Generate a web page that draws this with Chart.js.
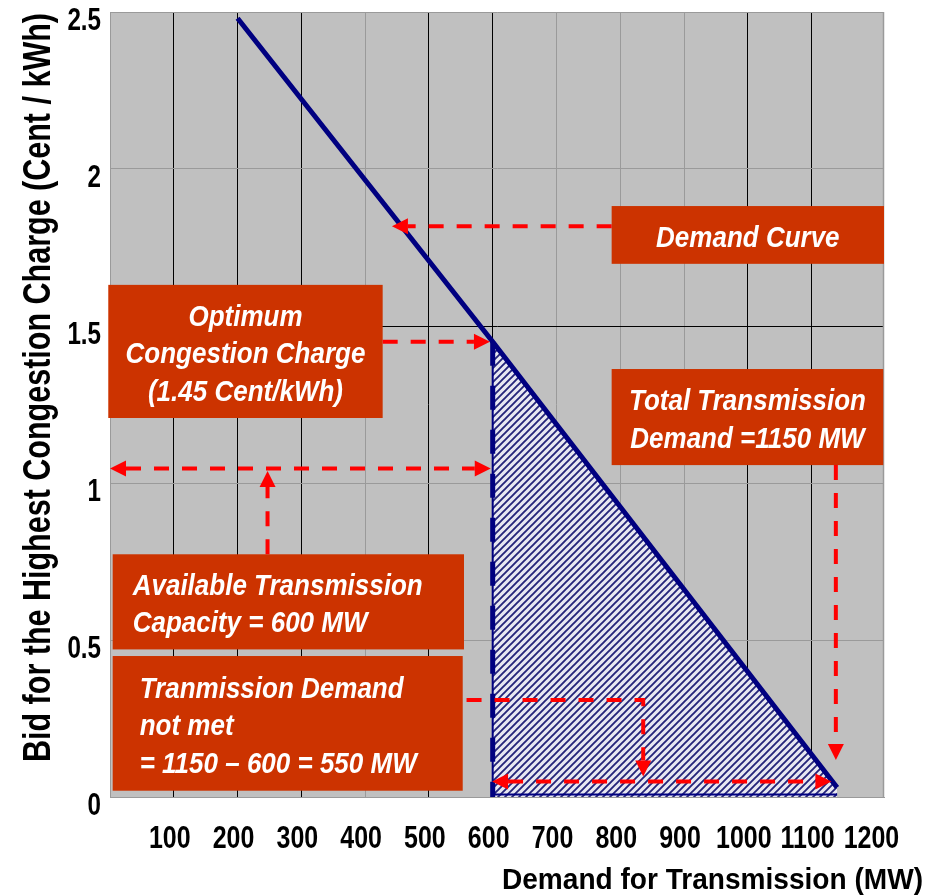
<!DOCTYPE html>
<html>
<head>
<meta charset="utf-8">
<title>Demand for Transmission</title>
<script src="https://cdn.jsdelivr.net/npm/chart.js@4.4.1/dist/chart.umd.min.js"></script>
<style>
  html, body { margin: 0; padding: 0; background: #ffffff; }
  canvas { display: block; }
</style>
</head>
<body>
<canvas id="c" width="929" height="895"></canvas>
<script>
// ---- data ----------------------------------------------------------------
// Demand curve: bid for congestion charge (Cent/kWh) against demanded MW
const demandMW  = [200, 600, 1140];
const demandBid = [2.48, 1.45, 0.03];

const capacityMW    = 600;   // available transmission capacity
const optimumCharge = 1.45;  // bid where the curve meets the capacity
const totalDemandMW = 1150;  // total demand (curve meets zero charge)

const xTickValues = [0, 100, 200, 300, 400, 500, 600, 700, 800, 900, 1000, 1100, 1200];
const xTickLabels = ['', '100', '200', '300', '400', '500', '600', '700', '800', '900', '1000', '1100', '1200'];
const yTickValues = [0, 0.5, 1, 1.5, 2, 2.5];
const yTickLabels = ['0', '0.5', '1', '1.5', '2', '2.5'];

const xTitle = 'Demand for Transmission (MW)';
const yTitle = 'Bid for the Highest Congestion Charge (Cent / kWh)';

// ---- styling ---------------------------------------------------------------
const NAVY = '#000080';
const PLOT_BG = '#c0c0c0';
const GRID_GRAY = '#9a9a9a';
const BOX_RED = '#cc3300';
const ARROW_RED = '#ff0000';
const FAMILY = '"Liberation Sans", Arial, sans-serif';
const darkGridX = [100, 200, 300, 500, 600, 1000, 1100];
const darkGridY = [1.5];

// diagonal hatch used for the unmet-demand triangle
function makeHatch() {
  const s = 7;
  const tile = document.createElement('canvas');
  tile.width = s; tile.height = s;
  const g = tile.getContext('2d');
  g.fillStyle = '#e8e8f2';
  g.fillRect(0, 0, s, s);
  g.strokeStyle = '#25257a';
  g.lineWidth = 1.9;
  g.beginPath();
  g.moveTo(0, s); g.lineTo(s, 0);
  g.moveTo(-s / 2, s / 2); g.lineTo(s / 2, -s / 2);
  g.moveTo(s / 2, s * 1.5); g.lineTo(s * 1.5, s / 2);
  g.stroke();
  return document.getElementById('c').getContext('2d').createPattern(tile, 'repeat');
}

// ---- callouts (in data units) ---------------------------------------------
const calloutBoxes = [
  { x: [786.5, 1213.5], y: [1.698, 1.882], align: 'center',
    lines: ['Demand Curve'] },
  { x: [-2.7, 427.5], y: [1.207, 1.631], align: 'center',
    lines: ['Optimum', 'Congestion Charge', '(' + optimumCharge + ' Cent/kWh)'] },
  { x: [786.5, 1212.3], y: [1.057, 1.363], align: 'center',
    lines: ['Total Transmission', 'Demand =' + totalDemandMW + ' MW'] },
  { x: [4.2, 555], y: [0.470, 0.773], align: 'left', inset: 20,
    lines: ['Available Transmission', 'Capacity = ' + capacityMW + ' MW'] },
  { x: [4.2, 553], y: [0.020, 0.449], align: 'left', inset: 27,
    lines: ['Tranmission Demand', 'not met',
            '= ' + totalDemandMW + ' \u2013 ' + capacityMW + ' = ' + (totalDemandMW - capacityMW) + ' MW'] }
];

const calloutArrows = [
  { pts: [[786.5, 1.818], [442, 1.818]], heads: ['end'] },
  { pts: [[427.5, optimumCharge], [595.7, optimumCharge]], heads: ['end'] },
  { pts: [[0, 1.046], [597, 1.046]], heads: ['start', 'end'] },
  { pts: [[247, 0.773], [247, 1.038]], heads: ['end'] },
  { pts: [[1138, 1.057], [1138, 0.118]], heads: ['end'] },
  { pts: [[599, 0.049], [1131, 0.049]], heads: ['start', 'end'] },
  { pts: [[559, 0.309], [836, 0.309], [836, 0.065]], heads: ['end'] }
];

// text drawn with a horizontal squeeze (condensed bold face)
function squeezedText(ctx, text, x, y, size, sx, align, opts) {
  ctx.save();
  ctx.font = (opts && opts.italic ? 'italic ' : '') + 'bold ' + size + 'px ' + FAMILY;
  ctx.textAlign = align;
  ctx.textBaseline = 'alphabetic';
  ctx.translate(x, y);
  if (opts && opts.rotate) ctx.rotate(opts.rotate);
  ctx.scale(sx, (opts && opts.sy) || 1);
  ctx.fillText(text, 0, 0);
  ctx.restore();
}

// ---- plugins ---------------------------------------------------------------
const plotFrame = {
  id: 'plotFrame',
  beforeDraw(chart) {
    const { ctx, chartArea: a } = chart;
    ctx.save();
    ctx.fillStyle = '#ffffff';
    ctx.fillRect(0, 0, chart.width, chart.height);
    ctx.fillStyle = PLOT_BG;
    ctx.fillRect(a.left, a.top, a.right - a.left, a.bottom - a.top);
    ctx.restore();
  },
  beforeDatasetsDraw(chart) {
    const { ctx, chartArea: a } = chart;
    ctx.save();
    ctx.strokeStyle = GRID_GRAY;
    ctx.lineWidth = 1.5;
    ctx.beginPath();
    ctx.moveTo(a.right - 0.5, a.top);
    ctx.lineTo(a.right - 0.5, a.bottom);
    ctx.stroke();
    ctx.restore();
  }
};

function drawArrow(ctx, p, heads) {
  const HL = 16, HW = 8;
  const step = (a, b) => {
    const dx = b.x - a.x, dy = b.y - a.y, d = Math.hypot(dx, dy);
    return { x: a.x + dx / d * HL, y: a.y + dy / d * HL };
  };
  const path = p.map(q => ({ x: q.x, y: q.y }));
  if (heads.includes('start')) path[0] = step(p[0], p[1]);
  if (heads.includes('end')) path[path.length - 1] = step(p[p.length - 1], p[p.length - 2]);
  ctx.strokeStyle = ARROW_RED;
  ctx.fillStyle = ARROW_RED;
  ctx.lineWidth = 4;
  ctx.lineCap = 'butt';
  ctx.setLineDash([15, 13]);
  ctx.beginPath();
  path.forEach((q, i) => (i ? ctx.lineTo(q.x, q.y) : ctx.moveTo(q.x, q.y)));
  ctx.stroke();
  ctx.setLineDash([]);
  const head = (tip, from) => {
    const dx = tip.x - from.x, dy = tip.y - from.y, d = Math.hypot(dx, dy);
    const ux = dx / d, uy = dy / d;
    const bx = tip.x - ux * HL, by = tip.y - uy * HL;
    ctx.beginPath();
    ctx.moveTo(tip.x, tip.y);
    ctx.lineTo(bx - uy * HW, by + ux * HW);
    ctx.lineTo(bx + uy * HW, by - ux * HW);
    ctx.closePath();
    ctx.fill();
  };
  if (heads.includes('start')) head(p[0], p[1]);
  if (heads.includes('end')) head(p[p.length - 1], p[p.length - 2]);
}

const callouts = {
  id: 'callouts',
  afterDatasetsDraw(chart) {
    const { ctx } = chart;
    const X = v => chart.scales.x.getPixelForValue(v);
    const Y = v => chart.scales.y.getPixelForValue(v);
    const SIZE = 26, SY = 1.15, LEAD = 37.5;
    const capH = 0.716 * SIZE * SY;
    ctx.save();
    for (const b of calloutBoxes) {
      const x0 = X(b.x[0]), x1 = X(b.x[1]);
      const y0 = Y(b.y[1]), y1 = Y(b.y[0]);
      ctx.fillStyle = BOX_RED;
      ctx.fillRect(x0, y0, x1 - x0, y1 - y0);
      ctx.fillStyle = '#ffffff';
      const n = b.lines.length, cy = (y0 + y1) / 2 + 1;
      b.lines.forEach((t, i) => {
        const mid = cy + (i - (n - 1) / 2) * LEAD;
        const tx = b.align === 'left' ? x0 + b.inset : (x0 + x1) / 2;
        squeezedText(ctx, t, tx, mid + capH / 2, SIZE, 1, b.align, { italic: true, sy: SY });
      });
    }
    for (const a of calloutArrows) {
      drawArrow(ctx, a.pts.map(([mx, v]) => ({ x: X(mx), y: Y(v) })), a.heads);
    }
    ctx.restore();
  },
  afterDraw(chart) {
    const { ctx } = chart;
    const xs = chart.scales.x, ys = chart.scales.y;
    ctx.save();
    ctx.fillStyle = '#000000';

    // tick labels at the scale's tick positions
    const TX = 32, TY = 31, SQ = 0.78;
    xTickValues.forEach((v, i) => {
      if (!xTickLabels[i]) return;
      squeezedText(ctx, xTickLabels[i], xs.getPixelForValue(v) - 4, 848, TX, SQ, 'center');
    });
    yTickValues.forEach((v, i) => {
      squeezedText(ctx, yTickLabels[i], 101, ys.getPixelForValue(v) + 7 + 0.716 * TY / 2, TY, SQ, 'right');
    });

    // x-axis title, right-aligned below the tick labels
    ctx.font = 'bold 29px ' + FAMILY;
    let sx = 421 / ctx.measureText(xTitle).width;
    squeezedText(ctx, xTitle, 923, 889, 29, sx, 'right');

    // y-axis title, rotated
    ctx.font = 'bold 38px ' + FAMILY;
    sx = 749 / ctx.measureText(yTitle).width;
    squeezedText(ctx, yTitle, 50, 387.5, 38, sx, 'center', { rotate: -Math.PI / 2 });
    ctx.restore();
  }
};

// ---- chart -----------------------------------------------------------------
const hatch = makeHatch();
const pts = (xs, ys) => xs.map((x, i) => ({ x: x, y: ys[i] }));

new Chart(document.getElementById('c'), {
  type: 'scatter',
  data: {
    datasets: [
      { label: 'Demand curve', data: pts(demandMW, demandBid), showLine: true,
        borderColor: NAVY, borderWidth: 5, pointRadius: 0, fill: false },
      { label: 'Capacity limit', data: pts([capacityMW, capacityMW], [optimumCharge, -0.004]),
        showLine: true, borderColor: NAVY, borderWidth: 5, borderDash: [24, 20],
        pointRadius: 0, fill: false },
      { label: 'Unmet outline', data: pts([capacityMW, capacityMW, demandMW[2]], [optimumCharge, 0.008, 0.008]),
        showLine: true, borderColor: NAVY, borderWidth: 2, pointRadius: 0, fill: false },
      { label: 'Unmet demand', data: pts(demandMW.slice(1), demandBid.slice(1)), showLine: true,
        borderColor: 'rgba(0,0,0,0)', borderWidth: 0, pointRadius: 0,
        fill: 'origin', backgroundColor: hatch }
    ]
  },
  options: {
    responsive: false,
    animation: false,
    devicePixelRatio: 1,
    layout: { padding: { top: 12, right: 45, left: 0, bottom: 0 } },
    plugins: { legend: { display: false }, tooltip: { enabled: false } },
    scales: {
      x: {
        type: 'linear', min: 0, max: 1213.5,
        afterBuildTicks: s => { s.ticks = xTickValues.map(v => ({ value: v })); },
        afterFit: s => { s.height = 98; s.paddingLeft = 0; s.paddingRight = 0; },
        grid: {
          drawTicks: false, lineWidth: 1,
          color: c => {
            const v = c.tick ? c.tick.value : null;
            if (v === 1200) return 'rgba(0,0,0,0)';
            return darkGridX.includes(v) ? '#000000' : GRID_GRAY;
          }
        },
        border: { color: GRID_GRAY, width: 1 },
        ticks: { display: false, autoSkip: false, callback: (v, i) => xTickLabels[i] }
      },
      y: {
        type: 'linear', min: 0, max: 2.5,
        afterBuildTicks: s => { s.ticks = yTickValues.map(v => ({ value: v })); },
        afterFit: s => { s.width = 110; s.paddingTop = 0; s.paddingBottom = 0; },
        grid: {
          drawTicks: false, lineWidth: 1,
          color: c => (c.tick && darkGridY.includes(c.tick.value)) ? '#000000' : GRID_GRAY
        },
        border: { color: GRID_GRAY, width: 1 },
        ticks: { display: false, callback: (v, i) => yTickLabels[i] }
      }
    }
  },
  plugins: [plotFrame, callouts]
});
</script>
</body>
</html>
